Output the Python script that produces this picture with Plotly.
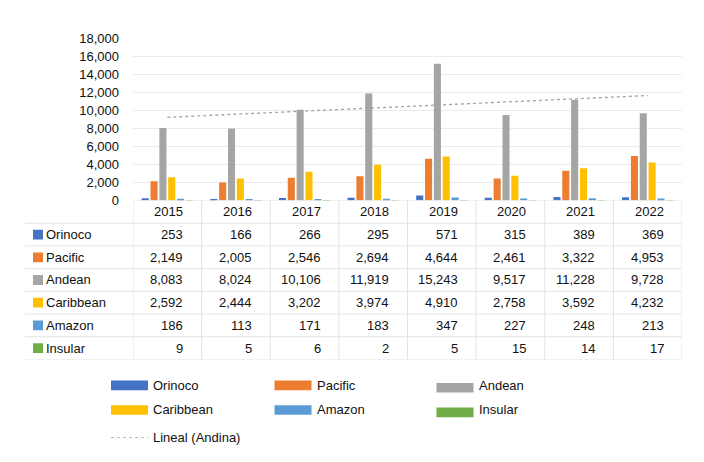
import numpy as np
import plotly.graph_objects as go

# ---------------- data ----------------
years = ["2015", "2016", "2017", "2018", "2019", "2020", "2021", "2022"]
series_names = ["Orinoco", "Pacific", "Andean", "Caribbean", "Amazon", "Insular"]
orinoco = [253, 166, 266, 295, 571, 315, 389, 369]
pacific = [2149, 2005, 2546, 2694, 4644, 2461, 3322, 4953]
andean = [8083, 8024, 10106, 11919, 15243, 9517, 11228, 9728]
caribbean = [2592, 2444, 3202, 3974, 4910, 2758, 3592, 4232]
amazon = [186, 113, 171, 183, 347, 227, 248, 213]
insular = [9, 5, 6, 2, 5, 15, 14, 17]
series_values = [orinoco, pacific, andean, caribbean, amazon, insular]
series_colors = ["#4472C4", "#ED7D31", "#A5A5A5", "#FFC000", "#5B9BD5", "#70AD47"]
trend_name = "Lineal (Andina)"
y_ticks = [0, 2000, 4000, 6000, 8000, 10000, 12000, 14000, 16000, 18000]

# ---------------- layout helpers ----------------
W, H = 704, 462
FONT = "Liberation Sans, Arial, Helvetica, sans-serif"
TXT = "#111111"
LINE = "#e3e3e3"


def px(x):
    return x / W


def py(y):
    return 1 - y / H


fig = go.Figure()

for name, vals, col in zip(series_names, series_values, series_colors):
    fig.add_trace(go.Bar(x=years, y=vals, name=name, marker=dict(color=col, line=dict(width=0)),
                         showlegend=False, hoverinfo="x+y+name"))

# linear trendline of the Andean series (least squares, like Excel)
idx = np.arange(len(years))
slope, intercept = np.polyfit(idx, np.array(andean, dtype=float), 1)
trend = (slope * idx + intercept).tolist()
fig.add_trace(go.Scatter(x=years, y=trend, mode="lines", name=trend_name, showlegend=False,
                         line=dict(color="#a3a3a3", width=1.3, dash="dot")))

shapes = []
annotations = []

# table: header (years) -- category axis annotations use the category index
for j, yr in enumerate(years):
    annotations.append(dict(x=j, y=-1, xref="x", yref="y2", text=yr, showarrow=False,
                            xanchor="right", yanchor="middle", xshift=18,
                            font=dict(family=FONT, size=13, color=TXT)))

# table: rows
for i, (name, vals, col) in enumerate(zip(series_names, series_values, series_colors)):
    annotations.append(dict(x=px(44), y=i, xref="paper", yref="y2", text=name, showarrow=False,
                            xanchor="left", yanchor="middle",
                            font=dict(family=FONT, size=13, color=TXT)))
    shapes.append(dict(type="rect", xref="paper", yref="y2", x0=px(33), x1=px(43),
                       y0=i - 0.215, y1=i + 0.215, fillcolor=col, line=dict(width=0)))
    for j, v in enumerate(vals):
        annotations.append(dict(x=j, y=i, xref="x", yref="y2", text=f"{v:,}",
                                showarrow=False, xanchor="right", yanchor="middle", xshift=18,
                                font=dict(family=FONT, size=13, color=TXT)))

# table grid lines
n_rows = len(series_names)
for k in range(n_rows + 1):
    shapes.append(dict(type="line", xref="paper", yref="y2", x0=px(25), x1=px(682),
                       y0=k - 0.5, y1=k - 0.5, line=dict(color=LINE, width=1)))
shapes.append(dict(type="line", xref="x", yref="y2", x0=-0.5, x1=len(years) - 0.5,
                   y0=-1.5, y1=-1.5, line=dict(color=LINE, width=1)))
for k in range(len(years) + 1):
    shapes.append(dict(type="line", xref="x", yref="y2", x0=k - 0.5, x1=k - 0.5,
                       y0=-1.5, y1=n_rows - 0.5, line=dict(color=LINE, width=1)))

# manual legend (Excel style)
leg_cols = [111, 274.5, 436.5]
leg_text_x = [153, 316.5, 479]
leg_rows = [391, 416.5]
for n, (name, col) in enumerate(zip(series_names, series_colors)):
    r, c = divmod(n, 3)
    yc = leg_rows[r] + (2.5 if c == 2 else 0)
    shapes.append(dict(type="rect", xref="paper", yref="paper", x0=px(leg_cols[c]), x1=px(leg_cols[c] + 37),
                       y0=py(yc + 5), y1=py(yc - 5), fillcolor=col, line=dict(width=0)))
    annotations.append(dict(x=px(leg_text_x[c] - 2), y=py(leg_rows[r]), xref="paper", yref="paper",
                            text=name, showarrow=False, xanchor="left", yanchor="middle",
                            font=dict(family=FONT, size=13, color=TXT)))
shapes.append(dict(type="line", xref="paper", yref="paper", x0=px(111), x1=px(148),
                   y0=py(445), y1=py(445), line=dict(color="#bdbdbd", width=1, dash="dot")))
annotations.append(dict(x=px(151), y=py(445), xref="paper", yref="paper", text=trend_name,
                        showarrow=False, xanchor="left", yanchor="middle",
                        font=dict(family=FONT, size=13, color=TXT)))

fig.update_layout(
    width=W, height=H,
    margin=dict(l=0, r=0, t=0, b=0),
    paper_bgcolor="white", plot_bgcolor="white",
    font=dict(family=FONT, size=13, color=TXT),
    barmode="group", bargap=0.227, bargroupgap=0.2,
    showlegend=False,
    xaxis=dict(type="category", domain=[px(133), px(682)], showgrid=False, zeroline=False,
               showline=False, showticklabels=False, ticks="", range=[-0.5, len(years) - 0.5],
               anchor="y"),
    yaxis=dict(domain=[py(200), py(33)], range=[0, 18000], tickvals=y_ticks, tickformat=",",
               showgrid=True, gridcolor="#ebebeb", gridwidth=1, zeroline=False, showline=False,
               ticks="", ticklabelstandoff=13, tickfont=dict(family=FONT, size=13, color=TXT),
               anchor="x"),
    yaxis2=dict(domain=[py(364.3), py(200)], range=[n_rows - 0.5, -1.5], visible=False,
                anchor="x", showgrid=False, zeroline=False),
    shapes=shapes,
    annotations=annotations,
)

fig.write_html("out.html")
